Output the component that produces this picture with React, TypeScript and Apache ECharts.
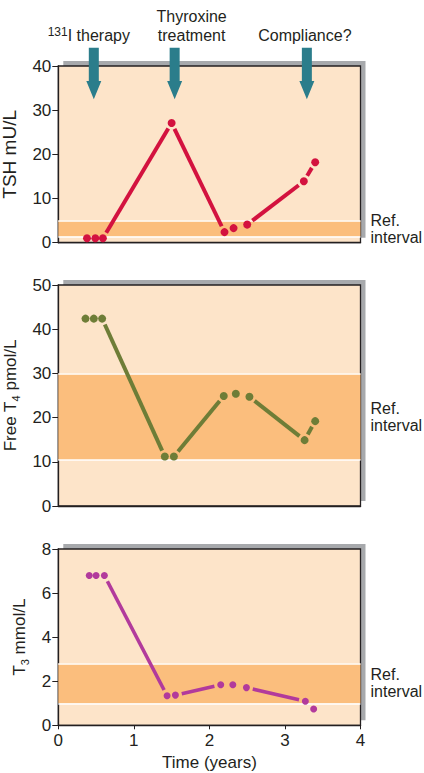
import React, { useEffect, useRef } from "react";
import * as echarts from "echarts";

// ---------- data ----------
const timeMin = 0;
const timeMax = 4;

const tshTime = [0.38, 0.49, 0.59, 1.5, 2.2, 2.32, 2.5, 3.25, 3.4];
const tshValue = [1.0, 1.0, 1.0, 27.1, 2.4, 3.3, 4.1, 13.9, 18.2];
const tshLinks = [[2, 3], [3, 4], [6, 7], [7, 8]];
const tshRef = [1.4, 5.0];

const t4Time = [0.36, 0.47, 0.58, 1.41, 1.53, 2.19, 2.35, 2.53, 3.26, 3.4];
const t4Value = [42.4, 42.4, 42.4, 11.2, 11.2, 24.9, 25.4, 24.7, 14.9, 19.2];
const t4Links = [[2, 3], [4, 5], [7, 8], [8, 9]];
const t4Ref = [10.4, 30];

const t3Time = [0.41, 0.5, 0.61, 1.44, 1.55, 2.15, 2.31, 2.49, 3.27, 3.38];
const t3Value = [6.8, 6.8, 6.8, 1.34, 1.37, 1.84, 1.84, 1.71, 1.09, 0.74];
const t3Links = [[2, 3], [4, 5], [7, 8]];
const t3Ref = [1.0, 2.8];

const eventTime = [0.47, 1.54, 3.29];
const eventLabels = ["{sup|131}I therapy", "Thyroxine\ntreatment", "Compliance?"];

// ---------- layout / style ----------
const FONT = "'Liberation Sans', Arial, Helvetica, sans-serif";
const INK = "#231f20";
const PEACH = "#fde4c9";
const BAND = "#fbbe7d";
const SHADOW = "#a7a9ac";
const TEAL = "#2b7d8b";
const GRID_LEFT = 58.3;
const GRID_W = 302.2;
const eventLabelDx = [-5, 17, -2];

const panels = [
  { top: 66, height: 176.7, yMax: 40, yInt: 10, name: "TSH mU/L", nameSize: 19, nameGap: 30,
    time: tshTime, value: tshValue, links: tshLinks, ref: tshRef, color: "#d3123f", dot: 8, lw: 4 },
  { top: 285, height: 221, yMax: 50, yInt: 10, name: "Free T{sub|4} pmol/L", nameSize: 17, nameGap: 28,
    time: t4Time, value: t4Value, links: t4Links, ref: t4Ref, color: "#6e7d37", dot: 8, lw: 4 },
  { top: 549, height: 176.3, yMax: 8, yInt: 2, name: "T{sub|3} mmol/L", nameSize: 17, nameGap: 28,
    time: t3Time, value: t3Value, links: t3Links, ref: t3Ref, color: "#b23a9c", dot: 7, lw: 3.6 },
];

function App() {
  const ref = useRef<HTMLDivElement>(null);

  useEffect(() => {
    if (!ref.current) return;
    const chart = echarts.init(ref.current, undefined, { renderer: "svg" });

    const grids: any[] = [];
    const xAxes: any[] = [];
    const yAxes: any[] = [];
    const series: any[] = [];
    const graphics: any[] = [];

    panels.forEach((p, i) => {
      const last = i === panels.length - 1;
      grids.push({
        left: GRID_LEFT,
        top: p.top,
        width: GRID_W,
        height: p.height,
        containLabel: false,
        outerBoundsMode: "none",
        show: true,
        backgroundColor: PEACH,
        borderColor: INK,
        borderWidth: 1.3,
      });
      graphics.push({
        type: "rect",
        z: -10,
        shape: { x: GRID_LEFT + 5, y: p.top - 5, width: GRID_W, height: p.height },
        style: { fill: SHADOW },
      });
      xAxes.push({
        type: "value",
        gridIndex: i,
        min: timeMin,
        max: timeMax,
        interval: 1,
        splitLine: { show: false },
        axisLine: { show: true, lineStyle: { color: INK, width: 1.3 } },
        axisTick: { show: last, length: 4, lineStyle: { color: INK } },
        axisLabel: { show: last, fontSize: 17, color: INK, margin: 7, fontFamily: FONT },
        name: last ? "Time (years)" : "",
        nameLocation: "middle",
        nameGap: 29,
        nameTextStyle: { fontSize: 17, color: INK, fontFamily: FONT },
      });
      yAxes.push({
        type: "value",
        gridIndex: i,
        min: 0,
        max: p.yMax,
        interval: p.yInt,
        splitLine: { show: false },
        axisLine: { show: true, lineStyle: { color: INK, width: 1.3 } },
        axisTick: { show: true, length: 6, lineStyle: { color: INK } },
        axisLabel: { fontSize: 17, color: INK, margin: 7, fontFamily: FONT },
        name: p.name,
        nameLocation: "middle",
        nameGap: p.nameGap,
        nameRotate: 90,
        nameTextStyle: {
          fontSize: p.nameSize,
          color: INK,
          fontFamily: FONT,
          lineHeight: p.nameSize + 4,
          rich: {
            sub: { fontSize: 11, color: INK, fontFamily: FONT, verticalAlign: "bottom", lineHeight: 12 },
          },
        },
      });

      // reference band + labels
      series.push({
        type: "scatter",
        xAxisIndex: i,
        yAxisIndex: i,
        data: [],
        silent: true,
        z: 1,
        markArea: {
          silent: true,
          z: 1,
          itemStyle: { color: BAND },
          label: {
            show: true,
            position: "right",
            distance: 10,
            formatter: "Ref.\ninterval",
            fontSize: 16,
            lineHeight: 17,
            color: INK,
            fontFamily: FONT,
            align: "left",
          },
          data: [[{ yAxis: p.ref[0] }, { yAxis: p.ref[1] }]],
        },
        markLine: {
          silent: true,
          z: 1,
          symbol: "none",
          label: { show: false },
          lineStyle: { color: "#ffffff", width: 1.5, type: "solid" },
          data: [{ yAxis: p.ref[0] }, { yAxis: p.ref[1] }],
        },
      });

      // connecting segments (shortened near dots)
      const segs = p.links.map(([a, b]) => [p.time[a], p.value[a], p.time[b], p.value[b]]);
      const color = p.color;
      const lw = p.lw;
      series.push({
        type: "custom",
        xAxisIndex: i,
        yAxisIndex: i,
        z: 3,
        silent: true,
        encode: { x: [0, 2], y: [1, 3] },
        data: segs,
        renderItem: (params: any, api: any) => {
          const p1 = api.coord([api.value(0), api.value(1)]);
          const p2 = api.coord([api.value(2), api.value(3)]);
          const dx = p2[0] - p1[0];
          const dy = p2[1] - p1[1];
          const len = Math.hypot(dx, dy);
          const g = Math.min(6.5, len / 2 - 2);
          const ux = dx / len;
          const uy = dy / len;
          return {
            type: "line",
            shape: { x1: p1[0] + ux * g, y1: p1[1] + uy * g, x2: p2[0] - ux * g, y2: p2[1] - uy * g },
            style: { stroke: color, lineWidth: lw, lineCap: "butt" },
          };
        },
      });

      // dots
      series.push({
        type: "scatter",
        xAxisIndex: i,
        yAxisIndex: i,
        z: 4,
        symbol: "circle",
        symbolSize: p.dot,
        itemStyle: { color: p.color, opacity: 1 },
        data: p.time.map((t, k) => [t, p.value[k]]),
      });
    });

    // event arrows + labels (top panel)
    series.push({
      type: "custom",
      xAxisIndex: 0,
      yAxisIndex: 0,
      z: 6,
      silent: true,
      clip: false,
      data: eventTime.map((t, k) => [t, panels[0].yMax, k]),
      renderItem: (params: any, api: any) => {
        const pt = api.coord([api.value(0), api.value(1)]);
        const k = api.value(2);
        const x = pt[0];
        const y = pt[1];
        const sw = 5;
        const hw = 7.5;
        const top = y - 18.3;
        const headY = y + 15;
        const tip = y + 33.3;
        return {
          type: "group",
          children: [
            {
              type: "polygon",
              shape: {
                points: [
                  [x - sw, top], [x + sw, top], [x + sw, headY], [x + hw, headY],
                  [x, tip], [x - hw, headY], [x - sw, headY],
                ],
              },
              style: { fill: TEAL },
            },
            {
              type: "text",
              x: x + eventLabelDx[k],
              y: y - 21,
              style: {
                text: eventLabels[k],
                fill: INK,
                fontSize: 16,
                fontFamily: FONT,
                lineHeight: 19,
                align: "center",
                verticalAlign: "bottom",
                rich: {
                  sup: { fontSize: 12, fill: INK, fontFamily: FONT, verticalAlign: "top", lineHeight: 7 },
                },
              },
            },
          ],
        };
      },
    });

    chart.setOption({
      animation: false,
      textStyle: { fontFamily: FONT },
      grid: grids,
      xAxis: xAxes,
      yAxis: yAxes,
      series,
      graphic: { elements: graphics },
    });

    return () => chart.dispose();
  }, []);

  return (
    <div
      ref={ref}
      style={{ position: "absolute", left: 0, top: 0, width: 424, height: 773, background: "#ffffff" }}
    />
  );
}

export default App;
